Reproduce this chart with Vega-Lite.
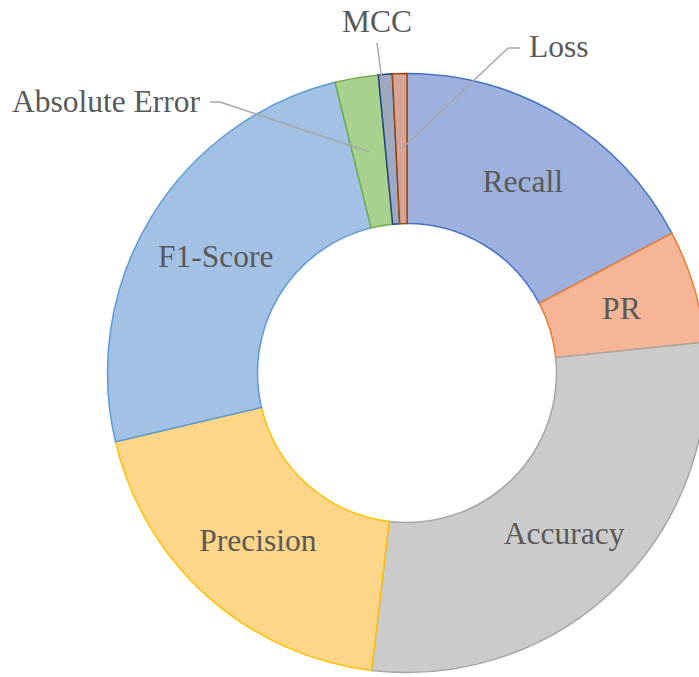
{
  "$schema": "https://vega.github.io/schema/vega-lite/v6.json",
  "width": 699,
  "height": 677,
  "autosize": {"type": "none"},
  "padding": 0,
  "background": "white",
  "config": {"view": {"stroke": null}, "font": "Liberation Serif"},
  "data": {
    "values": [
      {"metric": "Recall", "share": 17.28, "rank": 1},
      {"metric": "PR", "share": 6.08, "rank": 2},
      {"metric": "Accuracy", "share": 28.53, "rank": 3},
      {"metric": "Precision", "share": 19.42, "rank": 4},
      {"metric": "F1-Score", "share": 24.83, "rank": 5},
      {"metric": "Absolute Error", "share": 2.33, "rank": 6},
      {"metric": "MCC", "share": 0.75, "rank": 7},
      {"metric": "Loss", "share": 0.78, "rank": 8}
    ]
  },
  "layer": [
    {
      "mark": {"type": "arc", "x": 407, "y": 373, "innerRadius": 149.5, "outerRadius": 299.5, "strokeWidth": 1.5},
      "encoding": {
        "theta": {"field": "share", "type": "quantitative", "stack": true},
        "order": {"field": "rank", "type": "quantitative"},
        "fill": {
          "field": "metric", "type": "nominal", "legend": null,
          "scale": {
            "domain": ["Recall", "PR", "Accuracy", "Precision", "F1-Score", "Absolute Error", "MCC", "Loss"],
            "range": ["#9eb0de", "#f5b596", "#cbcbcb", "#fed68a", "#a2c1e5", "#a9d18e", "#9ea9c6", "#d4a596"]
          }
        },
        "stroke": {
          "field": "metric", "type": "nominal", "legend": null,
          "scale": {
            "domain": ["Recall", "PR", "Accuracy", "Precision", "F1-Score", "Absolute Error", "MCC", "Loss"],
            "range": ["#4472c4", "#ed7d31", "#a5a5a5", "#ffc000", "#5b9bd5", "#70ad47", "#264478", "#9e480e"]
          }
        }
      }
    },
    {
      "transform": [{"filter": "datum.metric === 'MCC'"}],
      "mark": {"type": "rule", "color": "#a6a6a6", "strokeWidth": 1.5},
      "encoding": {"x": {"value": 377}, "y": {"value": 43}, "x2": {"value": 391}, "y2": {"value": 149.5}}
    },
    {
      "transform": [{"filter": "datum.metric === 'Loss'"}],
      "mark": {"type": "rule", "color": "#a6a6a6", "strokeWidth": 1.5},
      "encoding": {"x": {"value": 520}, "y": {"value": 48}, "x2": {"value": 508}, "y2": {"value": 48}}
    },
    {
      "transform": [{"filter": "datum.metric === 'Loss'"}],
      "mark": {"type": "rule", "color": "#a6a6a6", "strokeWidth": 1.5},
      "encoding": {"x": {"value": 508}, "y": {"value": 48}, "x2": {"value": 401.5}, "y2": {"value": 149}}
    },
    {
      "transform": [{"filter": "datum.metric === 'Absolute Error'"}],
      "mark": {"type": "rule", "color": "#a6a6a6", "strokeWidth": 1.5},
      "encoding": {"x": {"value": 210}, "y": {"value": 102}, "x2": {"value": 220}, "y2": {"value": 102}}
    },
    {
      "transform": [{"filter": "datum.metric === 'Absolute Error'"}],
      "mark": {"type": "rule", "color": "#a6a6a6", "strokeWidth": 1.5},
      "encoding": {"x": {"value": 220}, "y": {"value": 102}, "x2": {"value": 369.5}, "y2": {"value": 152}}
    },
    {
      "transform": [{"filter": "datum.rank <= 5"}],
      "mark": {"type": "text", "x": 407, "y": 373, "radius": 224, "dy": 2, "font": "Liberation Serif", "fontSize": 31.5, "color": "#595959"},
      "encoding": {
        "theta": {"field": "share", "type": "quantitative", "stack": true},
        "order": {"field": "rank", "type": "quantitative"},
        "detail": {"field": "metric", "type": "nominal"},
        "text": {"field": "metric", "type": "nominal"}
      }
    },
    {
      "transform": [{"filter": "datum.metric === 'MCC'"}],
      "mark": {"type": "text", "x": 377, "y": 23, "align": "center", "font": "Liberation Serif", "fontSize": 31.5, "color": "#595959"},
      "encoding": {"text": {"field": "metric", "type": "nominal"}}
    },
    {
      "transform": [{"filter": "datum.metric === 'Loss'"}],
      "mark": {"type": "text", "x": 529, "y": 48, "align": "left", "font": "Liberation Serif", "fontSize": 31.5, "color": "#595959"},
      "encoding": {"text": {"field": "metric", "type": "nominal"}}
    },
    {
      "transform": [{"filter": "datum.metric === 'Absolute Error'"}],
      "mark": {"type": "text", "x": 200, "y": 103, "align": "right", "font": "Liberation Serif", "fontSize": 31.5, "color": "#595959"},
      "encoding": {"text": {"field": "metric", "type": "nominal"}}
    }
  ]
}
